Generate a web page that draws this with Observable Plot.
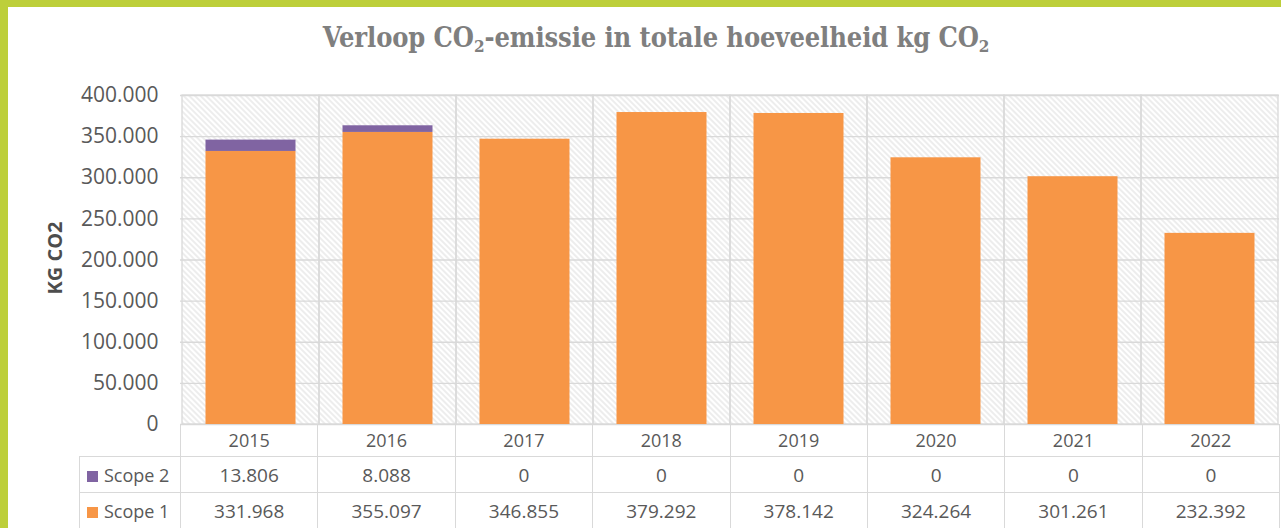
<!DOCTYPE html>
<html>
<head>
<meta charset="utf-8">
<script src="https://cdn.jsdelivr.net/npm/d3@7"></script>
<script src="https://cdn.jsdelivr.net/npm/@observablehq/plot@0.6"></script>
<style>
  html, body { margin: 0; padding: 0; background: #fff; }
  #wrap { position: relative; width: 1281px; height: 528px; overflow: hidden; background: #fff; font-family: "Open Sans", sans-serif; }
  .bar-top { position: absolute; left: 0; top: 0; width: 1281px; height: 7px; background: #BDCF3A; }
  .bar-left { position: absolute; left: 0; top: 0; width: 8px; height: 528px; background: #BDCF3A; }
  #title { position: absolute; left: 0; width: 1312px; top: 22px; text-align: center;
           font-family: "DejaVu Serif Condensed", "DejaVu Serif", serif; font-stretch: condensed; font-weight: bold; font-size: 27px; color: #7f7f7f; letter-spacing: -0.1px; }
  #title sub { font-size: 17px; vertical-align: -5px; line-height: 0; }
  #chart { position: absolute; left: 8px; top: 80px; }
  #chart svg { overflow: visible; }
  #table { position: absolute; left: 79px; top: 424px; border-collapse: collapse; table-layout: fixed; color: #595959; }
  #table td { border: 1px solid #d9d9d9; text-align: center; padding: 0; font-size: 19px; }
  #table tr.yr td { height: 32px; font-size: 18px; border-top: none; }
  #table tr.yr td.empty { border: none; }
  #table tr.s td { height: 35px; }
  #table td.lg { text-align: left; padding-left: 7px; white-space: nowrap; font-size: 18px; }
  .sw { display: inline-block; width: 11px; height: 11px; margin-right: 6px; vertical-align: 0px; }
</style>
</head>
<body>
<div id="wrap">
  <div class="bar-top"></div>
  <div class="bar-left"></div>
  <div id="title">Verloop CO<sub>2</sub>-emissie in totale hoeveelheid kg CO<sub>2</sub></div>
  <div id="chart"></div>
  <table id="table"></table>
</div>
<script>
const years = ["2015", "2016", "2017", "2018", "2019", "2020", "2021", "2022"];
const scope1 = [331968, 355097, 346855, 379292, 378142, 324264, 301261, 232392];
const scope2 = [13806, 8088, 0, 0, 0, 0, 0, 0];
const seriesNames = ["Scope 1", "Scope 2"];
const seriesColors = ["#F79646", "#8064A2"];
const yTicks = [0, 50000, 100000, 150000, 200000, 250000, 300000, 350000, 400000];
const yLabel = "KG CO2";

const nl = d3.formatLocale({decimal: ",", thousands: ".", grouping: [3], currency: ["€", ""]});
const fmt = nl.format(",d");

const rows = [];
years.forEach((y, i) => {
  rows.push({year: y, series: "Scope 1", value: scope1[i]});
  rows.push({year: y, series: "Scope 2", value: scope2[i]});
});

const W = 1273, mL = 172, mR = 2;
const chart = Plot.plot({
  width: W,
  height: 345,
  marginLeft: mL,
  marginRight: mR,
  marginTop: 15,
  marginBottom: 1,
  style: {fontFamily: "Open Sans, sans-serif", fontSize: "21px", color: "#595959", background: "transparent"},
  x: {domain: years, padding: 0, axis: null},
  y: {domain: [0, 400000], ticks: yTicks, tickFormat: fmt, tickSize: 0, tickPadding: 22, label: null},
  color: {domain: seriesNames, range: seriesColors},
  marks: [
    Plot.cell(years, {x: d => d, fill: "url(#hatch)", stroke: "none"}),
    Plot.ruleY(yTicks, {stroke: "#d9d9d9", strokeWidth: 1.3}),
    Plot.cell(years, {x: d => d, fill: "none", stroke: "#d9d9d9", strokeWidth: 1.3}),
    Plot.barY(rows, {x: "year", y: "value", fill: "series", insetLeft: 23.5, insetRight: 23.5}),
    Plot.text([yLabel], {text: d => d, frameAnchor: "left", textAnchor: "middle", dx: -125, dy: -2, rotate: -90,
      fontWeight: "bold", fontSize: 20, fill: "#4d4d4d"})
  ]
});
const defs = d3.select(chart).insert("defs", ":first-child");
const pat = defs.append("pattern").attr("id", "hatch").attr("width", 4).attr("height", 4)
  .attr("patternUnits", "userSpaceOnUse").attr("patternTransform", "rotate(-45)");
pat.append("rect").attr("width", 4).attr("height", 4).attr("fill", "#fff");
pat.append("line").attr("x1", 1).attr("y1", 0).attr("x2", 1).attr("y2", 4)
  .attr("stroke", "#e2e2e2").attr("stroke-width", 1.2);
d3.select(chart).selectAll("text").filter(function() { return this.textContent === yLabel; })
  .attr("font-size", 20).attr("font-weight", "bold").style("font-size", "20px");
document.getElementById("chart").appendChild(chart);

// Data table below the chart
const colW = (W - mL - mR) / years.length;
const table = d3.select("#table");
const cg = table.append("colgroup");
cg.append("col").style("width", "101px");
years.forEach(() => cg.append("col").style("width", colW + "px"));
table.style("width", (101 + colW * years.length) + "px");
const yr = table.append("tr").attr("class", "yr");
yr.append("td").attr("class", "empty");
years.forEach(y => yr.append("td").text(y));
const tableRows = [
  {name: "Scope 2", color: seriesColors[1], values: scope2},
  {name: "Scope 1", color: seriesColors[0], values: scope1}
];
tableRows.forEach(r => {
  const tr = table.append("tr").attr("class", "s");
  const lg = tr.append("td").attr("class", "lg");
  lg.append("span").attr("class", "sw").style("background", r.color);
  lg.append("span").text(r.name);
  r.values.forEach(v => tr.append("td").text(fmt(v)));
});
</script>
</body>
</html>
